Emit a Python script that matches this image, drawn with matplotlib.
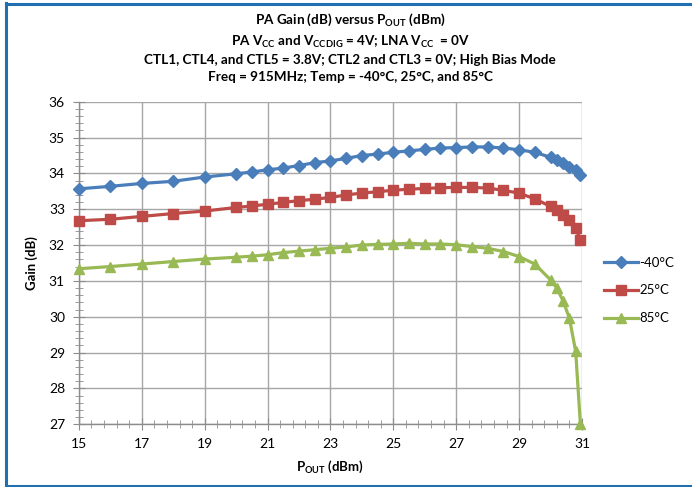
import numpy as np
import matplotlib
matplotlib.use("Agg")
import matplotlib.pyplot as plt
from matplotlib.lines import Line2D

plt.rcParams['font.family'] = ['Lato', 'DejaVu Sans']
plt.rcParams['mathtext.fontset'] = 'custom'
plt.rcParams['mathtext.rm'] = 'Lato'
plt.rcParams['mathtext.bf'] = 'Lato:bold'
plt.rcParams['mathtext.default'] = 'bf'

# output power (dBm)
pout = [15, 16, 17, 18, 19, 20, 20.5, 21, 21.5, 22, 22.5, 23, 23.5, 24, 24.5,
        25, 25.5, 26, 26.5, 27, 27.5, 28, 28.5, 29, 29.5, 30, 30.2, 30.4,
        30.6, 30.8, 30.95]

gain_m40 = [33.57, 33.64, 33.72, 33.78, 33.90, 33.99, 34.04, 34.10, 34.15, 34.22,
            34.30, 34.35, 34.42, 34.50, 34.54, 34.59, 34.63, 34.67, 34.71, 34.72,
            34.74, 34.74, 34.71, 34.66, 34.59, 34.45, 34.38, 34.29, 34.19, 34.10,
            33.96]
gain_25 = [32.68, 32.72, 32.80, 32.88, 32.95, 33.05, 33.09, 33.14, 33.19, 33.24,
           33.28, 33.33, 33.40, 33.45, 33.49, 33.53, 33.56, 33.58, 33.60, 33.61,
           33.61, 33.59, 33.53, 33.45, 33.29, 33.08, 32.97, 32.84, 32.70, 32.47,
           32.15]
gain_85 = [31.34, 31.40, 31.47, 31.54, 31.61, 31.66, 31.69, 31.73, 31.79, 31.83,
           31.87, 31.91, 31.95, 32.00, 32.02, 32.03, 32.05, 32.03, 32.03, 32.01,
           31.96, 31.91, 31.82, 31.68, 31.47, 31.03, 30.80, 30.44, 29.96, 29.03,
           27.0]

labels = ['-40°C', '25°C', '85°C']
colors = ['#4a7ebb', '#be4b48', '#98b954']
markers = ['D', 's', '^']
msizes = [6, 7, 7]

xticks = np.arange(15, 32, 2)
yticks = np.arange(27, 37, 1)

fig = plt.figure(figsize=(6.92, 4.87), dpi=100)
ax = fig.add_axes([0.114, 0.129, 0.727, 0.662])

for g, lab, c, m, ms in zip([gain_m40, gain_25, gain_85], labels, colors, markers, msizes):
    ax.plot(pout, g, color=c, marker=m, markersize=ms, linewidth=2.3,
            label=lab, clip_on=False, zorder=3)

ax.set_xlim(15, 31)
ax.set_ylim(27, 36)
ax.set_xticks(xticks)
ax.set_xticks(np.arange(15, 31.01, 0.4), minor=True)
ax.set_yticks(yticks)
ax.set_yticks(np.arange(27, 36.01, 0.2), minor=True)
ax.grid(True, which='major', color='#a6a6a6', linewidth=1.0)
ax.set_axisbelow(True)
for s in ['top', 'right']:
    ax.spines[s].set_visible(False)
for s in ['left', 'bottom']:
    ax.spines[s].set_color('#8c8c8c')
    ax.spines[s].set_linewidth(1.0)
ax.tick_params(which='major', direction='inout', length=8, color='#8c8c8c',
               labelsize=10, pad=6)
ax.tick_params(which='minor', direction='inout', length=6, color='#8c8c8c')

ax.set_xlabel('P$_{OUT}$ (dBm)', fontsize=9.5, fontweight='bold', labelpad=6)
ax.set_ylabel('Gain (dB)', fontsize=9.5, fontweight='bold', labelpad=8)

title = ('PA Gain (dB) versus P$_{OUT}$ (dBm)\n'
         'PA V$_{CC}$ and V$_{CCDIG}$ = 4V; LNA V$_{CC}$  = 0V\n'
         'CTL1, CTL4, and CTL5 = 3.8V; CTL2 and CTL3 = 0V; High Bias Mode\n'
         'Freq = 915MHz; Temp = -40°C, 25°C, and 85°C')
fig.text(0.506, 0.975, title, ha='center', va='top', fontsize=9.7,
         fontweight='bold', linespacing=1.45)

ax.legend(loc='center left', bbox_to_anchor=(1.02, 0.415), frameon=False,
          fontsize=9.5, handlelength=2.6, handletextpad=0.1, labelspacing=1.2)

# blue frame around the chart
fc = '#1f6fb2'
fig.add_artist(Line2D([0.0087, 0.0087], [0.003, 0.993], color=fc, linewidth=2.2,
                      transform=fig.transFigure))
fig.add_artist(Line2D([0.0087, 1.0], [0.992, 0.992], color=fc, linewidth=2.2,
                      transform=fig.transFigure))
fig.add_artist(Line2D([0.0087, 1.0], [0.003, 0.003], color=fc, linewidth=2.2,
                      transform=fig.transFigure))

fig.savefig('out.png', dpi=100)
